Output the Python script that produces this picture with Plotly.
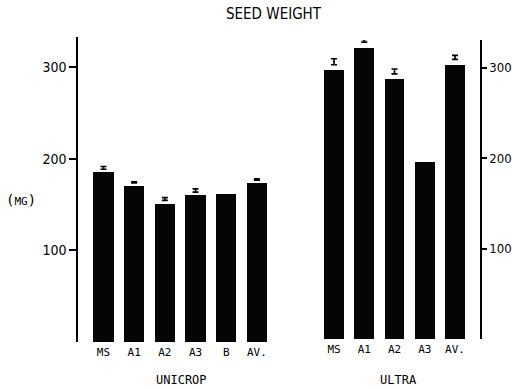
import plotly.graph_objects as go

# ---- data ----
uni_cats = ["MS", "A1", "A2", "A3", "B", "AV."]
uni_vals = [185, 170, 151, 160, 162, 173]
uni_se = [1.5, 0.6, 1.5, 1.8, None, 0.8]

ult_cats = ["MS", "A1", "A2", "A3", "AV."]
ult_vals = [297, 322, 287, 196, 303]
ult_se = [3.3, 1.5, 2.7, None, 2.2]

y_ticks = [100, 200, 300]

W, H = 512, 389
narrow = "Liberation Sans Narrow, DejaVu Sans Condensed, Arial Narrow, sans-serif"
mono = "DejaVu Sans Mono, Liberation Mono, monospace"


def px_x(x):
    return x / W


def px_y(y):
    return 1 - y / H


def err_trace(cats, vals, se, gap, xa, ya):
    ys, es, xs = [], [], []
    for c, v, s in zip(cats, vals, se):
        if s is None:
            continue
        xs.append(c)
        ys.append(v + gap + s)
        es.append(s)
    return go.Scatter(
        x=xs, y=ys, mode="markers", xaxis=xa, yaxis=ya, cliponaxis=False,
        marker=dict(size=1, color="black"),
        error_y=dict(type="data", array=es, visible=True, color="black",
                     thickness=1.6, width=3),
        showlegend=False, hoverinfo="skip",
    )


fig = go.Figure()
fig.add_trace(go.Bar(x=uni_cats, y=uni_vals, marker=dict(color="#050505", line=dict(width=0)),
                     width=0.66, xaxis="x", yaxis="y", showlegend=False))
fig.add_trace(err_trace(uni_cats, uni_vals, uni_se, 3.5, "x", "y"))
fig.add_trace(go.Bar(x=ult_cats, y=ult_vals, marker=dict(color="#050505", line=dict(width=0)),
                     width=0.66, xaxis="x2", yaxis="y2", showlegend=False))
fig.add_trace(err_trace(ult_cats, ult_vals, ult_se, 6.0, "x2", "y2"))

ppu1 = 275 / 300
ppu2 = 0.905
ann = dict(xref="paper", yref="paper", showarrow=False, xanchor="center", yanchor="middle")
fig.update_layout(
    width=W, height=H,
    margin=dict(l=0, r=0, t=0, b=0),
    paper_bgcolor="white", plot_bgcolor="white",
    bargap=0,
    xaxis=dict(domain=[px_x(78), px_x(275)], range=[-0.83, 5.59], anchor="y",
               automargin=False,
               showline=False, showgrid=False, zeroline=False, ticks="",
               tickfont=dict(family=mono, size=11, color="black"), ticklabelstandoff=2),
    yaxis=dict(domain=[px_y(342), px_y(37)], range=[0, (342 - 37) / ppu1], anchor="x",
               automargin=False,
               side="left", showline=True, linecolor="black", linewidth=1.5,
               showgrid=False, zeroline=False, ticks="outside", ticklen=7,
               tickcolor="black", tickwidth=1.5, tickvals=y_ticks,
               tickfont=dict(family=narrow, size=14, color="black")),
    xaxis2=dict(domain=[px_x(300), px_x(480)], range=[-1.124, 4.826], anchor="y2",
                automargin=False,
                showline=False, showgrid=False, zeroline=False, ticks="",
                tickfont=dict(family=mono, size=11, color="black"), ticklabelstandoff=2),
    yaxis2=dict(domain=[px_y(339), px_y(40)], range=[0, (339 - 40) / ppu2], anchor="x2",
                automargin=False,
                side="right", showline=True, linecolor="black", linewidth=1.5,
                showgrid=False, zeroline=False, ticks="outside", ticklen=5,
                tickcolor="black", tickwidth=1.5, tickvals=y_ticks,
                ticklabelstandoff=0,
                tickfont=dict(family=narrow, size=13, color="black")),
    annotations=[
        dict(text="SEED WEIGHT", x=px_x(274), y=px_y(14),
             font=dict(family=narrow, size=15, color="black"), **ann),
        dict(text="(<span style='font-size:11px'>MG</span>)", x=px_x(21), y=px_y(200),
             font=dict(family=mono, size=14, color="black"), **ann),
        dict(text="UNICROP", x=px_x(181), y=px_y(380),
             font=dict(family=mono, size=12, color="black"), **ann),
        dict(text="ULTRA", x=px_x(398), y=px_y(380),
             font=dict(family=mono, size=12, color="black"), **ann),
    ],
)

fig.write_html("out.html", config={"displayModeBar": False},
               post_script="document.body.style.margin='0';")
